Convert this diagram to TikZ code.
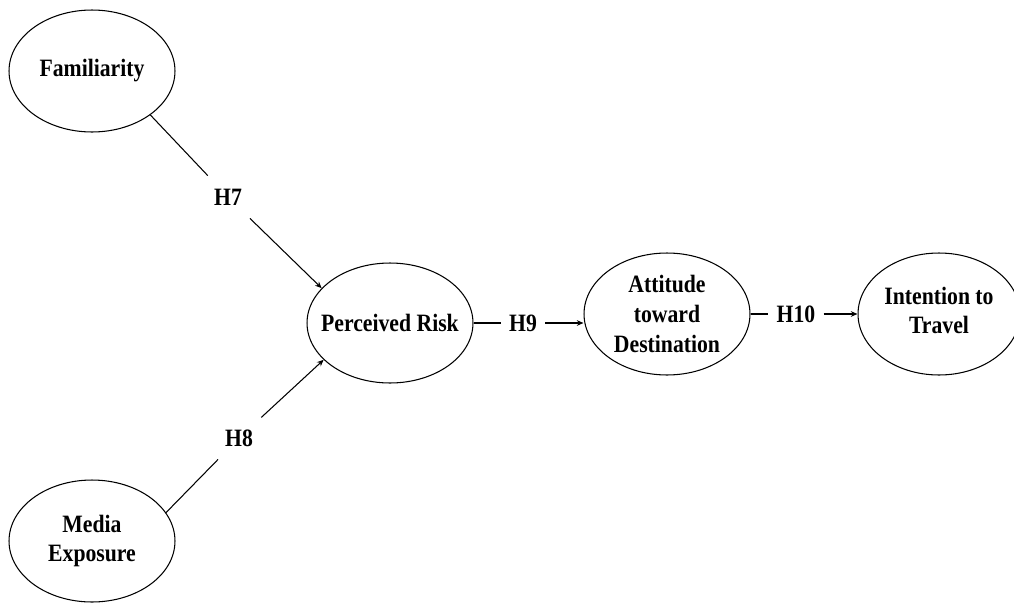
\documentclass[tikz,border=0pt]{standalone}
\usepackage{fontspec}
\setmainfont{Liberation Serif}[FakeStretch=0.87]
\usetikzlibrary{shapes.geometric,arrows.meta}
\begin{document}
\begin{tikzpicture}[x=0.02cm,y=-0.02cm,
  ell/.style={ellipse,draw=black,line width=0.6pt,minimum width=3.32cm,minimum height=2.44cm,inner sep=0pt},
  txt/.style={font=\fontsize{14.2}{17}\selectfont\bfseries,align=center,inner sep=0pt},
  hyp/.style={font=\fontsize{14.2}{17}\selectfont\bfseries,text height=9.4pt,text depth=0pt,inner xsep=4.6pt,inner ysep=7.3pt},
  con/.style={line width=0.6pt,draw=black},
  arr/.style={con,-{Stealth[length=3.8pt,width=3.2pt]}}
]
\useasboundingbox[fill=white] (0,0) rectangle (1014,602);

\node[ell] (fam) at (92,71) {};
\node[txt] (famT) at (fam) {Familiarity};
\node[ell] (med) at (92,541) {};
\node[txt] (medT) at (med) {Media\\Exposure};
\node[ell,minimum height=2.4cm] (pr) at (390,323) {};
\node[txt] (prT) at (pr) {Perceived Risk};
\node[ell] (att) at (667,314) {};
\node[txt] (attT) at (att) {Attitude\\toward\\Destination};
\node[ell,minimum width=3.24cm] (int) at (939,314) {};
\node[txt] (intT) at ([yshift=2pt]int.center) {Intention to\\Travel};

\node[hyp] (h7) at (228,197) {H7};
\node[hyp] (h8) at (239,438) {H8};
\node[hyp] (h9) at (523,323) {H9};
\node[hyp] (h10) at (796,314) {H10};

\draw[con] (fam.-37) -- (h7);
\draw[arr] (h7) -- (pr.153);
\draw[con] (med.21) -- (h8);
\draw[arr] (h8) -- (pr.209);
\draw[con] (pr) -- (h9);
\draw[arr] (h9) -- (att.west |- h9);
\draw[con] (att) -- (h10);
\draw[arr] (h10) -- (int);
\end{tikzpicture}
\end{document}
